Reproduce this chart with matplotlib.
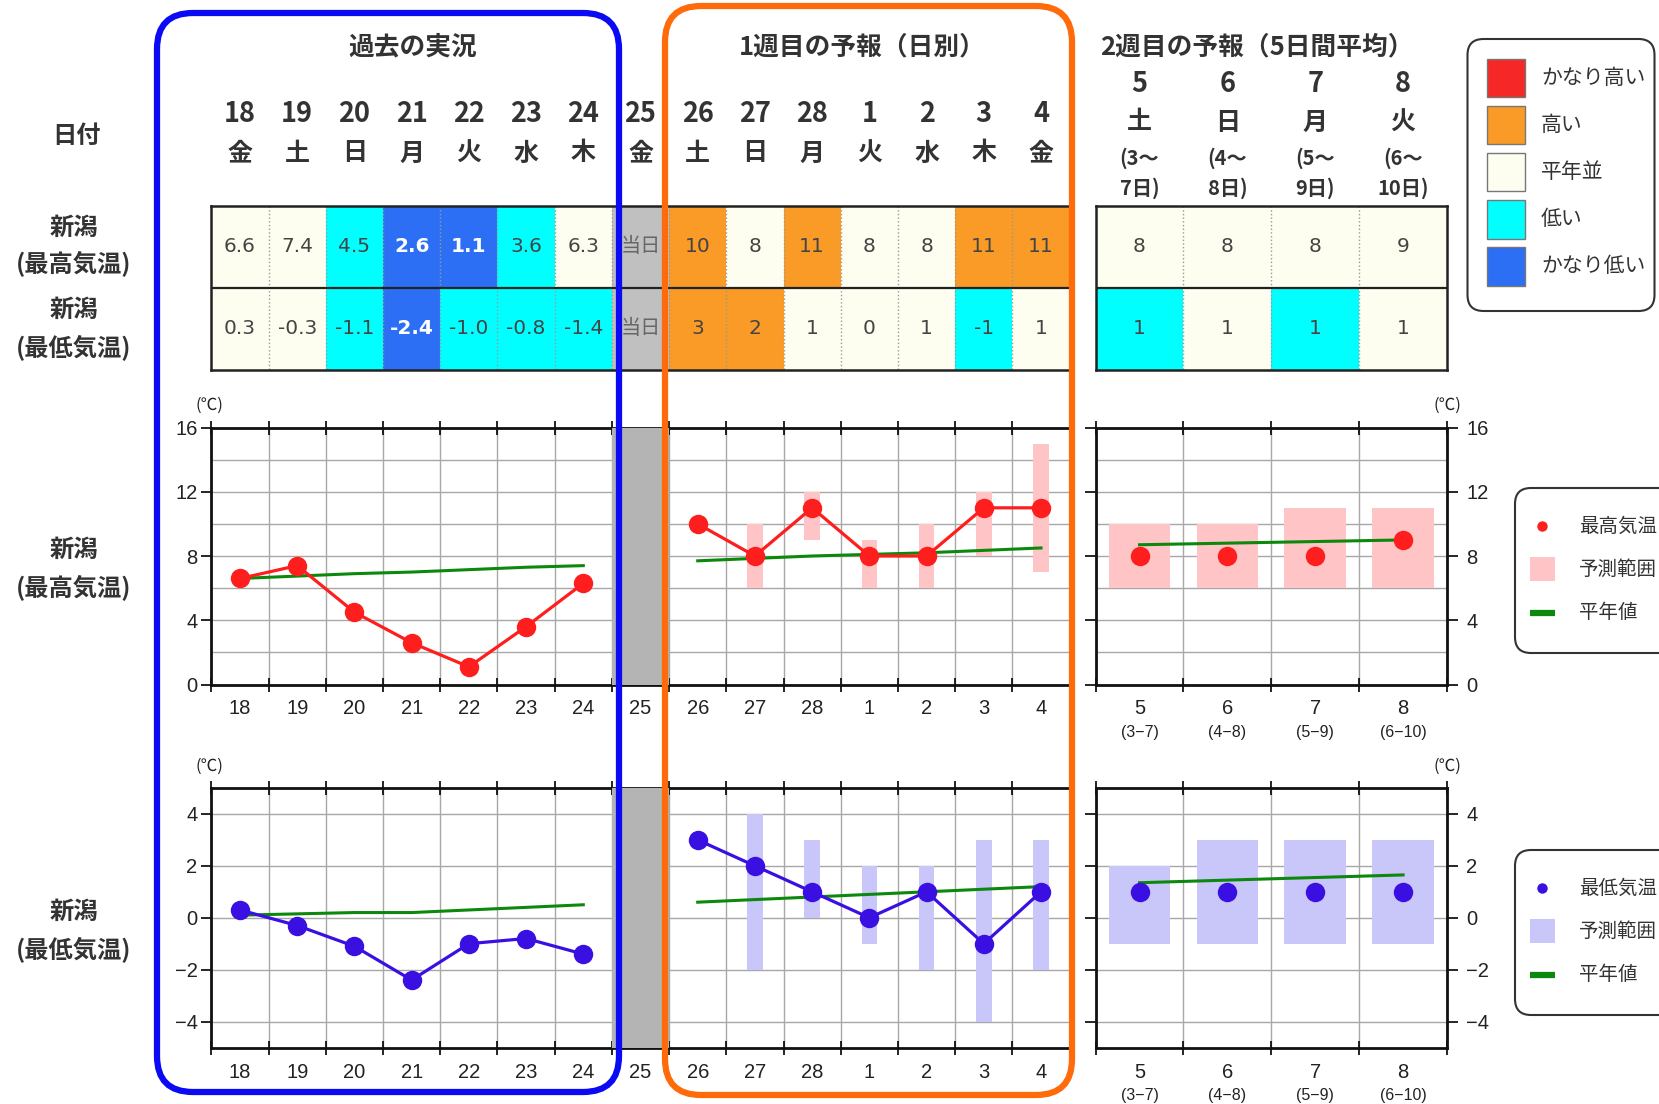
import numpy as np
import matplotlib
matplotlib.use("Agg")
import matplotlib.pyplot as plt
import matplotlib.transforms as mtransforms
from matplotlib.patches import Rectangle, FancyBboxPatch

plt.rcParams['font.family'] = ['Noto Sans CJK JP', 'DejaVu Sans']
NUM_FONT = ['Liberation Sans', 'DejaVu Sans']
TAB_FONT = ['DejaVu Sans', 'Noto Sans CJK JP']

# ---- data -------------------------------------------------------------
past_days = ['18', '19', '20', '21', '22', '23', '24']
past_wd = ['金', '土', '日', '月', '火', '水', '木']
today_day = '25'
today_wd = '金'
wk1_days = ['26', '27', '28', '1', '2', '3', '4']
wk1_wd = ['土', '日', '月', '火', '水', '木', '金']
wk2_days = ['5', '6', '7', '8']
wk2_wd = ['土', '日', '月', '火']
wk2_from = ['(3～', '(4～', '(5～', '(6～']
wk2_to = ['7日)', '8日)', '9日)', '10日)']
wk2_sub = ['(3−7)', '(4−8)', '(5−9)', '(6−10)']

# observed (past)
past_max = [6.6, 7.4, 4.5, 2.6, 1.1, 3.6, 6.3]
past_min = [0.3, -0.3, -1.1, -2.4, -1.0, -0.8, -1.4]
past_max_norm = [6.6, 6.75, 6.9, 7.0, 7.15, 7.3, 7.4]
past_min_norm = [0.1, 0.15, 0.2, 0.2, 0.3, 0.4, 0.5]
past_max_cls = ['N', 'N', 'L', 'VL', 'VL', 'L', 'N']
past_min_cls = ['N', 'N', 'L', 'VL', 'L', 'L', 'L']

# week 1 forecast (daily)
nan = np.nan
wk1_max = [10, 8, 11, 8, 8, 11, 11]
wk1_max_lo = [nan, 6, 9, 6, 6, 8, 7]
wk1_max_hi = [nan, 10, 12, 9, 10, 12, 15]
wk1_max_norm = [7.7, 7.85, 8.0, 8.1, 8.2, 8.35, 8.5]
wk1_max_cls = ['H', 'N', 'H', 'N', 'N', 'H', 'H']
wk1_min = [3, 2, 1, 0, 1, -1, 1]
wk1_min_lo = [nan, -2, 0, -1, -2, -4, -2]
wk1_min_hi = [nan, 4, 3, 2, 2, 3, 3]
wk1_min_norm = [0.6, 0.7, 0.8, 0.9, 1.0, 1.1, 1.2]
wk1_min_cls = ['H', 'H', 'N', 'N', 'N', 'L', 'N']

# week 2 forecast (5-day mean)
wk2_max = [8, 8, 8, 9]
wk2_max_lo = [6, 6, 6, 6]
wk2_max_hi = [10, 10, 11, 11]
wk2_max_norm = [8.7, 8.8, 8.9, 9.0]
wk2_max_cls = ['N', 'N', 'N', 'N']
wk2_min = [1, 1, 1, 1]
wk2_min_lo = [-1, -1, -1, -1]
wk2_min_hi = [2, 3, 3, 3]
wk2_min_norm = [1.35, 1.45, 1.55, 1.65]
wk2_min_cls = ['L', 'N', 'L', 'N']

cls_labels = ['かなり高い', '高い', '平年並', '低い', 'かなり低い']
cls_codes = ['VH', 'H', 'N', 'L', 'VL']
cls_colors = {'VH': '#f52727', 'H': '#f99b26', 'N': '#fdfdf0',
              'L': '#00ffff', 'VL': '#2d6ff4', 'T': '#c0c0c0'}

RED = '#ff1e1e'
BLUE = '#3a10e2'
GREEN = '#0c880c'
PINK = '#ffc4c6'
LAVENDER = '#c9c6fa'
GRID = '#a8a8a8'
TXT = '#333333'

# ---- layout (pixels) ----------------------------------------------------
W, H = 1659, 1104
L_X0, L_X1 = 211.4, 1069.6
R_X0, R_X1 = 1095.6, 1447.0
TAB_Y0, TAB_Y1 = 206, 370
MAX_Y0, MAX_Y1 = 427.5, 684.5
MIN_Y0, MIN_Y1 = 788, 1047.5


def rect(x0, y0, x1, y1):
    return [x0 / W, 1 - y1 / H, (x1 - x0) / W, (y1 - y0) / H]


fig = plt.figure(figsize=(W / 100, H / 100), dpi=100)

ov = fig.add_axes([0, 0, 1, 1], zorder=10)
ov.set_xlim(0, W)
ov.set_ylim(H, 0)
ov.axis('off')
ov.patch.set_alpha(0)


def fmt1(v):
    return f'{v:.1f}'


def fmt0(v):
    return f'{v:.0f}'


def draw_table(ax, rows):
    n = len(rows[0][0])
    ax.set_xlim(-0.5, n - 0.5)
    ax.set_ylim(2, 0)
    ax.set_xticks([])
    ax.set_yticks([])
    for r, (labels, classes) in enumerate(rows):
        for i, (lab, c) in enumerate(zip(labels, classes)):
            ax.add_patch(Rectangle((i - 0.5, r), 1, 1, facecolor=cls_colors[c],
                                   edgecolor='none', zorder=1))
            if c == 'VL':
                col, fw = 'white', 'bold'
            elif c == 'T':
                col, fw = '#666666', 'normal'
            else:
                col, fw = '#444444', 'normal'
            fam = ['Noto Sans CJK JP'] if c == 'T' else TAB_FONT
            ax.text(i, r + 0.5, lab, ha='center', va='center', fontsize=14.5,
                    color=col, fontweight=fw, family=fam)
    for i in range(1, n):
        ax.plot([i - 0.5, i - 0.5], [0, 2], ls=':', color='#999999', lw=1, zorder=2)
    ax.axhline(1, color='#222222', lw=1.6, zorder=3)
    for s in ax.spines.values():
        s.set_linewidth(1.8)
        s.set_color('#222222')


tab_l = fig.add_axes(rect(L_X0, TAB_Y0, L_X1, TAB_Y1))
draw_table(tab_l, [
    ([fmt1(v) for v in past_max] + ['当日'] + [fmt0(v) for v in wk1_max],
     past_max_cls + ['T'] + wk1_max_cls),
    ([fmt1(v) for v in past_min] + ['当日'] + [fmt0(v) for v in wk1_min],
     past_min_cls + ['T'] + wk1_min_cls),
])
tab_r = fig.add_axes(rect(R_X0, TAB_Y0, R_X1, TAB_Y1))
draw_table(tab_r, [
    ([fmt0(v) for v in wk2_max], wk2_max_cls),
    ([fmt0(v) for v in wk2_min], wk2_min_cls),
])


def style_chart(ax, n, ylim, ymajor, yminor, side):
    ax.set_xlim(-0.5, n - 0.5)
    ax.set_ylim(*ylim)
    ax.set_xticks(np.arange(-0.5, n, 1.0))
    ax.set_xticklabels([])
    ax.set_yticks(ymajor)
    ax.set_yticks(yminor, minor=True)
    ax.set_axisbelow(True)
    ax.grid(True, axis='x', which='major', color=GRID, lw=1)
    ax.grid(True, axis='y', which='both', color=GRID, lw=1)
    ax.tick_params(axis='x', which='major', direction='inout', length=10,
                   width=1.2, top=True, bottom=True)
    ax.tick_params(axis='y', which='minor', length=0)
    if side == 'left':
        ax.tick_params(axis='y', which='major', direction='out', length=7,
                       width=1.2, left=True, right=False, labelsize=14.5, pad=3)
    else:
        ax.tick_params(axis='y', which='major', direction='out', length=8,
                       width=1.2, left=True, right=True, labelleft=False,
                       labelright=True, labelsize=14.5, pad=6)
    for lab in ax.get_yticklabels():
        lab.set_family(NUM_FONT)
        lab.set_color('#222222')
    for s in ax.spines.values():
        s.set_linewidth(2)
        s.set_color('#111111')


def xlabels(ax, labels, ypix, size=14.5, family=None):
    tr = mtransforms.blended_transform_factory(ax.transData, ov.transData)
    for i, lab in enumerate(labels):
        ov.text(i, ypix, lab, transform=tr, ha='center', va='center',
                fontsize=size, color='#222222', family=family or NUM_FONT)


def draw_pair(y0, y1, ylim, ymajor, yminor, past, past_norm, wk1, wk1_lo, wk1_hi,
              wk1_norm, wk2, wk2_lo, wk2_hi, wk2_norm, col, rng):
    ax = fig.add_axes(rect(L_X0, y0, L_X1, y1))
    style_chart(ax, 15, ylim, ymajor, yminor, 'left')
    ax.axvspan(6.5, 7.5, color='#b4b4b4', zorder=3, lw=0)
    xp = np.arange(7)
    xw = np.arange(8, 15)
    lo = np.array(wk1_lo, float)
    hi = np.array(wk1_hi, float)
    ax.bar(xw, hi - lo, bottom=lo, width=0.27, color=rng, zorder=2)
    ax.plot(xp, past_norm, color=GREEN, lw=2.2, zorder=3)
    ax.plot(xw, wk1_norm, color=GREEN, lw=2.2, zorder=3)
    ax.plot(xp, past, color=col, lw=2.3, marker='o', ms=14, mew=0, zorder=4)
    ax.plot(xw, wk1, color=col, lw=2.3, marker='o', ms=14, mew=0, zorder=4)

    ax2 = fig.add_axes(rect(R_X0, y0, R_X1, y1))
    style_chart(ax2, 4, ylim, ymajor, yminor, 'right')
    x2 = np.arange(4)
    lo2 = np.array(wk2_lo, float)
    hi2 = np.array(wk2_hi, float)
    ax2.bar(x2, hi2 - lo2, bottom=lo2, width=0.7, color=rng, zorder=2)
    ax2.plot(x2, wk2_norm, color=GREEN, lw=2.2, zorder=3)
    ax2.plot(x2, wk2, ls='none', color=col, marker='o', ms=14, mew=0, zorder=4)

    xlabels(ax, past_days + [today_day] + wk1_days, y1 + 24.5)
    xlabels(ax2, wk2_days, y1 + 24.5)
    xlabels(ax2, wk2_sub, y1 + 48, size=11.5)
    ov.text(209.5, y0 - 22, '(℃)', ha='center', va='center', fontsize=12,
            color='#222222')
    ov.text(1447, y0 - 22, '(℃)', ha='center', va='center', fontsize=12,
            color='#222222')
    return ax, ax2


ax_max, ax2_max = draw_pair(MAX_Y0, MAX_Y1, (0, 16), [0, 4, 8, 12, 16],
                            np.arange(0, 17, 2), past_max, past_max_norm,
                            wk1_max, wk1_max_lo, wk1_max_hi, wk1_max_norm,
                            wk2_max, wk2_max_lo, wk2_max_hi, wk2_max_norm,
                            RED, PINK)
ax_min, ax2_min = draw_pair(MIN_Y0, MIN_Y1, (-5, 5), [-4, -2, 0, 2, 4],
                            [-4, -2, 0, 2, 4], past_min, past_min_norm,
                            wk1_min, wk1_min_lo, wk1_min_hi, wk1_min_norm,
                            wk2_min, wk2_min_lo, wk2_min_hi, wk2_min_norm,
                            BLUE, LAVENDER)

# ---- headers ------------------------------------------------------------
HB = dict(ha='center', va='center', color=TXT, fontweight='bold')
ov.text(412.6, 46.5, '過去の実況', fontsize=18.5, **HB)
ov.text(862, 46.5, '1週目の予報（日別）', fontsize=18.5, **HB)
ov.text(1257, 46.5, '2週目の予報（5日間平均）', fontsize=18.5, **HB)

tr_l = mtransforms.blended_transform_factory(tab_l.transData, ov.transData)
for i, (d, w) in enumerate(zip(past_days + [today_day] + wk1_days,
                               past_wd + [today_wd] + wk1_wd)):
    ov.text(i, 114, d, transform=tr_l, fontsize=19.5, **HB)
    ov.text(i, 153.5, w, transform=tr_l, fontsize=18, **HB)
tr_r = mtransforms.blended_transform_factory(tab_r.transData, ov.transData)
for i, (d, w, a, b) in enumerate(zip(wk2_days, wk2_wd, wk2_from, wk2_to)):
    ov.text(i, 84.5, d, transform=tr_r, fontsize=19.5, **HB)
    ov.text(i, 122.5, w, transform=tr_r, fontsize=18, **HB)
    ov.text(i, 158.5, a, transform=tr_r, fontsize=14.5, **HB)
    ov.text(i, 188, b, transform=tr_r, fontsize=14.5, **HB)

ov.text(76, 135.5, '日付', fontsize=17.5, **HB)
for y, lab in [(227.5, '新潟'), (263.5, '(最高気温)'), (310, '新潟'), (347, '(最低気温)'),
               (550, '新潟'), (587, '(最高気温)'), (912, '新潟'), (949, '(最低気温)')]:
    ov.text(74, y, lab, fontsize=17.5, **HB)

# ---- highlight frames ---------------------------------------------------
ov.add_patch(FancyBboxPatch((157, 13), 462, 1079,
                            boxstyle='round,pad=0,rounding_size=36',
                            fill=False, edgecolor='#0a0af5', lw=4.5, zorder=20))
ov.add_patch(FancyBboxPatch((665, 6), 407, 1089,
                            boxstyle='round,pad=0,rounding_size=36',
                            fill=False, edgecolor='#ff6a0a', lw=4.5, zorder=20))

# ---- legends ------------------------------------------------------------
ov.add_patch(FancyBboxPatch((1467.5, 39), 187, 272,
                            boxstyle='round,pad=0,rounding_size=16',
                            fill=False, edgecolor='#333333', lw=1.5))
for k, (code, lab) in enumerate(zip(cls_codes, cls_labels)):
    yc = 77.5 + k * 47.2
    ov.add_patch(Rectangle((1486.5, yc - 19), 38.5, 38.5,
                           facecolor=cls_colors[code], edgecolor='#777777', lw=1))
    ov.text(1541, yc, lab, ha='left', va='center', fontsize=15, color=TXT)


def series_legend(top, col, rng, name):
    ov.add_patch(FancyBboxPatch((1515, top), 160, 165,
                                boxstyle='round,pad=0,rounding_size=16',
                                fill=False, edgecolor='#333333', lw=1.5))
    ov.plot([1541.7], [top + 38], 'o', color=col, ms=7.5, mew=0)
    ov.add_patch(Rectangle((1530, top + 69), 25, 24, facecolor=rng, edgecolor='none'))
    ov.plot([1530, 1555], [top + 124.5, top + 124.5], color=GREEN, lw=4.5,
            solid_capstyle='butt')
    for dy, lab in [(38, name), (81, '予測範囲'), (124.5, '平年値')]:
        ov.text(1579, top + dy, lab, ha='left', va='center', fontsize=14,
                color=TXT)


series_legend(488, RED, PINK, '最高気温')
series_legend(850, BLUE, LAVENDER, '最低気温')

fig.savefig('out.png', dpi=100)
